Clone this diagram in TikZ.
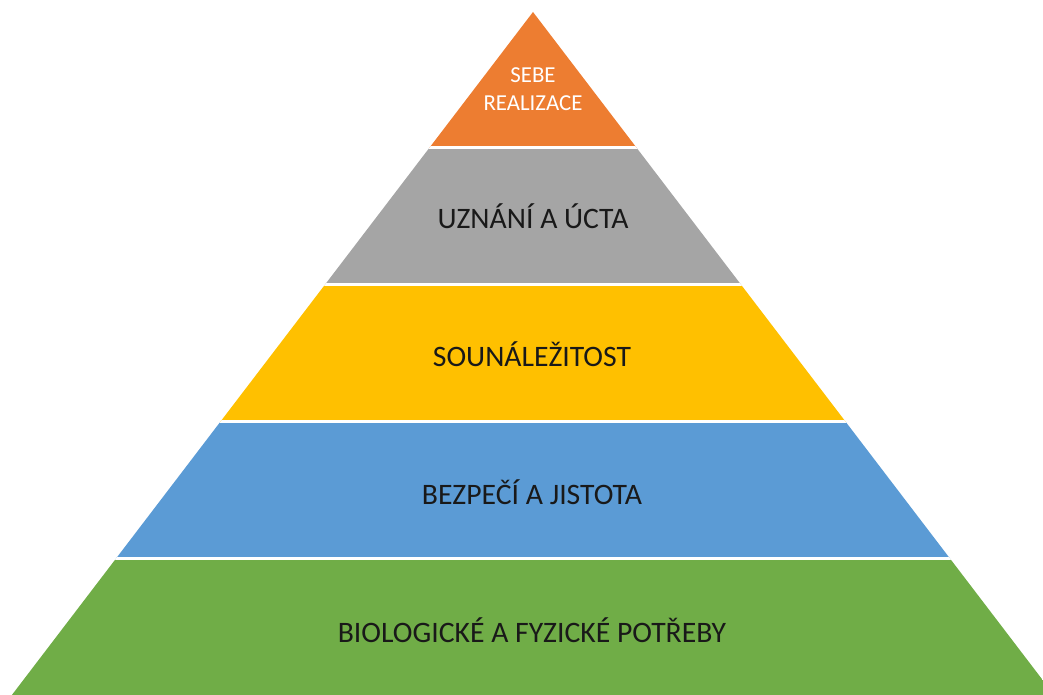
\documentclass[tikz,border=0pt]{standalone}
\usepackage{fontspec}
\setmainfont{Carlito}
\usepackage{tikz}
\definecolor{tierorange}{HTML}{ED7D31}
\definecolor{tiergray}{HTML}{A5A5A5}
\definecolor{tieryellow}{HTML}{FFC000}
\definecolor{tierblue}{HTML}{5B9BD5}
\definecolor{tiergreen}{HTML}{70AD47}

\begin{document}
\begin{tikzpicture}[x=0.1mm,y=0.1mm,
  tiertext/.style={text=black!90,font=\fontsize{8.45}{10}\selectfont},
  toptext/.style={text=white,font=\fontsize{6.5}{7.8}\selectfont,align=center}]

\useasboundingbox (0,0) rectangle (1043,695);

% pyramid cut into five levels
\begin{scope}
\clip (11.9,0) -- (533,683) -- (1054.1,0) -- cycle;
\fill[tiergreen] (0,0) rectangle (1100,136);
\fill[tierblue] (0,136) rectangle (1100,273);
\fill[tieryellow] (0,273) rectangle (1100,410);
\fill[tiergray] (0,410) rectangle (1100,547);
\fill[tierorange] (0,547) rectangle (1100,700);

% white gaps between the levels
\foreach \y in {136,273,410,547}
\draw[white,line width=0.3mm] (0,\y) -- (1100,\y);
\end{scope}

\node[tiertext] (bio) at (532,65) {BIOLOGICKÉ A FYZICKÉ POTŘEBY};
\node[tiertext] (bez) at (532,203) {BEZPEČÍ A JISTOTA};
\node[tiertext] (sou) at (532,341) {SOUNÁLEŽITOST};
\node[tiertext] (uzn) at (533,479) {UZNÁNÍ A ÚCTA};
\node[toptext] (seb) at (533,606) {SEBE\\REALIZACE};

\end{tikzpicture}
\end{document}
